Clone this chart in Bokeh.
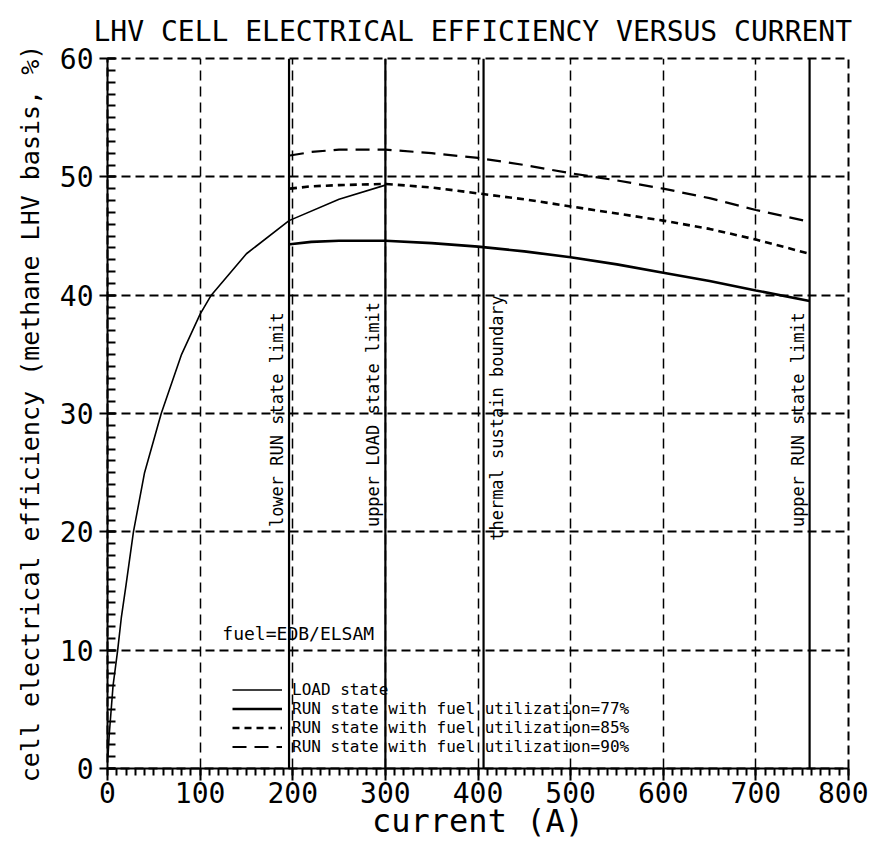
import math
from bokeh.plotting import figure
from bokeh.models import Range1d, SingleIntervalTicker, Span, Label, Legend, LegendItem
from bokeh.embed import file_html
from bokeh.resources import INLINE

# ---- data ----
load_current = [0.5, 2, 6, 11, 15, 20, 28, 40, 58, 80, 100, 112, 150, 196, 250, 300]
load_eff = [1, 3, 7, 10, 12.8, 15.5, 20, 25, 30, 35, 38.4, 40, 43.5, 46.3, 48.1, 49.3]

run_current = [197, 220, 250, 300, 350, 400, 450, 500, 550, 600, 650, 700, 758]
run77_eff = [44.3, 44.5, 44.6, 44.6, 44.4, 44.1, 43.7, 43.2, 42.6, 41.9, 41.2, 40.4, 39.5]
run85_eff = [49.0, 49.2, 49.3, 49.4, 49.1, 48.6, 48.1, 47.5, 46.9, 46.3, 45.6, 44.7, 43.5]
run90_eff = [51.8, 52.1, 52.3, 52.3, 52.0, 51.6, 51.0, 50.3, 49.7, 49.0, 48.2, 47.2, 46.2]

limit_currents = [196, 300, 406, 758]
limit_labels = ["lower RUN state limit", "upper LOAD state limit",
                "thermal sustain boundary", "upper RUN state limit"]
limit_sides = ["left", "left", "right", "left"]

legend_labels = ["LOAD state",
                 "RUN state with fuel utilization=77%",
                 "RUN state with fuel utilization=85%",
                 "RUN state with fuel utilization=90%"]

fuel_note = "fuel=EDB/ELSAM"
title_text = "LHV CELL ELECTRICAL EFFICIENCY VERSUS CURRENT"
x_label = "current (A)"
y_label = "cell electrical efficiency (methane LHV basis, %)"

FONT = "DejaVu Sans Mono"

p = figure(frame_width=741, frame_height=710,
           x_range=Range1d(0, 800), y_range=Range1d(0, 60),
           output_backend="svg", toolbar_location=None,
           min_border_left=107, min_border_right=20,
           min_border_top=58, min_border_bottom=70)

p.background_fill_color = "white"
p.border_fill_color = "white"
p.outline_line_color = "black"
p.outline_line_width = 2
p.outline_line_dash = "9 5"

# title
p.title.text = title_text
p.title.text_font = FONT
p.title.text_font_style = "normal"
p.title.text_font_size = "28px"
p.title.align = "left"
p.title.vertical_align = "top"
p.title.offset = -14
p.title.standoff = 18
p.title.text_color = "black"

# axes
p.xaxis.ticker = SingleIntervalTicker(interval=100, num_minor_ticks=10)
p.yaxis.ticker = SingleIntervalTicker(interval=10, num_minor_ticks=10)
for ax in (p.xaxis, p.yaxis):
    ax.axis_line_color = "black"
    ax.axis_line_width = 2
    ax.major_tick_line_color = "black"
    ax.major_tick_line_width = 2
    ax.minor_tick_line_color = "black"
    ax.minor_tick_line_width = 2
    ax.major_label_text_color = "black"
    ax.major_label_text_font = FONT
    ax.major_label_text_font_size = "28px"
    ax.axis_label_text_font = FONT
    ax.axis_label_text_font_style = "normal"
    ax.axis_label_text_color = "black"

p.xaxis.major_tick_out = 12
p.xaxis.major_tick_in = 0
p.xaxis.minor_tick_out = 7
p.xaxis.minor_tick_in = 0
p.xaxis.major_label_standoff = 1
p.xaxis.axis_label = x_label
p.xaxis.axis_label_text_font_size = "32px"
p.xaxis.axis_label_standoff = -4

p.yaxis.major_tick_out = 8
p.yaxis.major_tick_in = 8
p.yaxis.minor_tick_out = 0
p.yaxis.minor_tick_in = 8
p.yaxis.major_label_standoff = 6
p.yaxis.axis_label = y_label
p.yaxis.axis_label_text_font_size = "25px"
p.yaxis.axis_label_standoff = 12

# grid
p.xgrid.grid_line_color = "black"
p.xgrid.grid_line_width = 1.5
p.xgrid.grid_line_dash = "10 6"
p.ygrid.grid_line_color = "black"
p.ygrid.grid_line_width = 2
p.ygrid.grid_line_dash = "9 5"

# limit lines and their labels
for cur, txt, side in zip(limit_currents, limit_labels, limit_sides):
    p.add_layout(Span(location=cur, dimension="height", line_color="black", line_width=2.2))
    if side == "left":
        lab = Label(x=cur, y=20.4, text=txt, angle=math.pi / 2, angle_units="rad",
                    text_align="left", text_baseline="bottom", x_offset=-2)
    else:
        lab = Label(x=cur, y=40.0, text=txt, angle=math.pi / 2, angle_units="rad",
                    text_align="right", text_baseline="top", x_offset=3)
    lab.text_font = FONT
    lab.text_font_size = "17px"
    lab.text_color = "black"
    p.add_layout(lab)

# curves
r_load = p.line(load_current, load_eff, line_color="black", line_width=1.6)
r77 = p.line(run_current, run77_eff, line_color="black", line_width=2.6)
r85 = p.line(run_current, run85_eff, line_color="black", line_width=2.6, line_dash="7 5")
r90 = p.line(run_current, run90_eff, line_color="black", line_width=2.2, line_dash="14 8")

note = Label(x=124, y=10.5, text=fuel_note, text_align="left", text_baseline="bottom",
             text_font=FONT, text_font_size="18px", text_color="black")
p.add_layout(note)

legend = Legend(items=[LegendItem(label=legend_labels[0], renderers=[r_load]),
                       LegendItem(label=legend_labels[1], renderers=[r77]),
                       LegendItem(label=legend_labels[2], renderers=[r85]),
                       LegendItem(label=legend_labels[3], renderers=[r90])],
                location=(125, 12))
legend.background_fill_alpha = 0
legend.border_line_alpha = 0
legend.padding = 0
legend.margin = 0
legend.spacing = 0
legend.glyph_width = 50
legend.glyph_height = 17
legend.label_height = 17
legend.label_standoff = 10
legend.label_text_font = FONT
legend.label_text_font_size = "16px"
legend.label_text_line_height = 1.0
legend.label_text_color = "black"
p.add_layout(legend, "center")

open("out.html", "w").write(file_html(p, INLINE))
